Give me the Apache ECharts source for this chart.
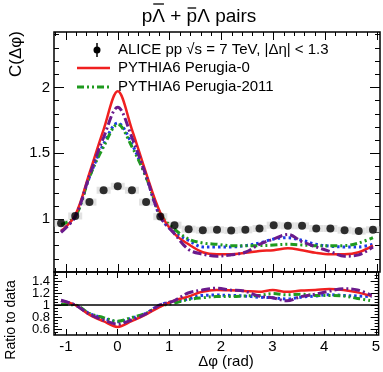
<!DOCTYPE html>
<html>
<head>
<meta charset="utf-8">
<script src="https://cdn.jsdelivr.net/npm/echarts@6/dist/echarts.min.js"></script>
<style>
  html, body { margin: 0; padding: 0; background: #fff; }
  #chart { width: 383px; height: 372px; }
</style>
</head>
<body>
<div id="chart"></div>
<script>
// bin centres (rad)
const BIN_X = [-1.093, -0.820, -0.546, -0.273, 0, 0.273, 0.546, 0.820, 1.093, 1.366, 1.639, 1.912,
               2.186, 2.459, 2.732, 3.005, 3.278, 3.552, 3.825, 4.098, 4.371, 4.644, 4.918];

// C(dphi) - data and models
const DATA_C    = [0.97, 1.025, 1.13, 1.22, 1.25, 1.22, 1.13, 1.02, 0.955, 0.925, 0.917, 0.92, 0.915, 0.92, 0.93, 0.955, 0.95, 0.95, 0.93, 0.93, 0.917, 0.91, 0.92];
const P0_C      = [0.91, 1.03, 1.35, 1.68, 1.97, 1.68, 1.35, 1.05, 0.89, 0.81, 0.75, 0.735, 0.735, 0.745, 0.76, 0.765, 0.78, 0.765, 0.745, 0.735, 0.735, 0.75, 0.80];
const P2011_C   = [0.96, 1.02, 1.32, 1.55, 1.72, 1.55, 1.32, 1.04, 0.925, 0.85, 0.82, 0.81, 0.80, 0.80, 0.80, 0.805, 0.81, 0.805, 0.80, 0.80, 0.80, 0.82, 0.86];
const BLUE_C    = [0.91, 1.02, 1.32, 1.57, 1.73, 1.57, 1.32, 1.02, 0.90, 0.84, 0.79, 0.79, 0.79, 0.80, 0.82, 0.85, 0.86, 0.84, 0.81, 0.795, 0.79, 0.79, 0.81];
const PURPLE_C  = [0.90, 1.02, 1.33, 1.62, 1.85, 1.62, 1.33, 1.02, 0.89, 0.77, 0.735, 0.72, 0.73, 0.75, 0.81, 0.85, 0.885, 0.83, 0.79, 0.755, 0.72, 0.73, 0.79];

// ratio to data
const P0_R      = [1.07, 1.0, 0.84, 0.73, 0.635, 0.73, 0.84, 0.97, 1.07, 1.14, 1.22, 1.25, 1.245, 1.235, 1.22, 1.25, 1.22, 1.24, 1.25, 1.265, 1.25, 1.21, 1.15];
const P2011_R   = [1.01, 1.0, 0.86, 0.79, 0.73, 0.79, 0.86, 0.98, 1.03, 1.09, 1.12, 1.14, 1.14, 1.15, 1.16, 1.19, 1.17, 1.18, 1.16, 1.16, 1.15, 1.11, 1.07];
const BLUE_R    = [1.07, 1.0, 0.86, 0.78, 0.72, 0.78, 0.86, 1.0, 1.06, 1.10, 1.16, 1.165, 1.16, 1.15, 1.13, 1.12, 1.10, 1.13, 1.15, 1.17, 1.16, 1.15, 1.14];
const PURPLE_R  = [1.08, 1.0, 0.85, 0.75, 0.68, 0.75, 0.85, 1.0, 1.07, 1.20, 1.25, 1.28, 1.25, 1.23, 1.15, 1.12, 1.07, 1.14, 1.18, 1.23, 1.27, 1.25, 1.16];

// ticks
const X_MAJOR  = [-1, 0, 1, 2, 3, 4, 5];
const X_MINOR  = [-1.2, -0.8, -0.6, -0.4, -0.2, 0.2, 0.4, 0.6, 0.8, 1.2, 1.4, 1.6, 1.8, 2.2, 2.4, 2.6, 2.8,
                  3.2, 3.4, 3.6, 3.8, 4.2, 4.4, 4.6, 4.8];
const YT_MAJOR = [1, 1.5, 2];
const YT_MINOR = [0.7, 0.8, 0.9, 1.1, 1.2, 1.3, 1.4, 1.6, 1.7, 1.8, 1.9, 2.1, 2.2, 2.3, 2.4];
const YB_MAJOR = [0.6, 0.8, 1, 1.2, 1.4];
const YB_LAB_A = [0.6, 1, 1.4];
const YB_LAB_B = [0.8, 1.2];
const YB_MINOR = [0.55, 0.65, 0.7, 0.75, 0.85, 0.9, 0.95, 1.05, 1.1, 1.15, 1.25, 1.3, 1.35, 1.45, 1.5];

const X_MIN = -1.229, X_MAX = 5.054;
const FONT = 'Liberation Sans, Arial, sans-serif';

const pairs = arr => BIN_X.map((x, i) => [x, arr[i]]);

// one axis carrying one family of inward ticks (and optionally labels)
function axis(grid, pos, min, max, vals, len, fs, labVals) {
    const a = {
        type: 'value', gridIndex: grid, position: pos, min: min, max: max,
        axisLine: { show: false, onZero: false }, splitLine: { show: false },
        axisTick: { show: len > 0, inside: true, length: len, customValues: vals,
                    lineStyle: { color: '#000', width: 1 } },
        axisLabel: { show: false }
    };
    if (fs) {
        a.axisLabel = { show: true, customValues: labVals || vals, color: '#000', fontFamily: FONT,
                        fontSize: fs, margin: 4, hideOverlap: false,
                        showMinLabel: true, showMaxLabel: true,
                        formatter: v => String(+v.toFixed(2)) };
    }
    return a;
}

const xAxes = [
    axis(0, 'bottom', X_MIN, X_MAX, X_MAJOR, 8),
    axis(0, 'bottom', X_MIN, X_MAX, X_MINOR, 4),
    axis(0, 'top', X_MIN, X_MAX, X_MAJOR, 8),
    axis(0, 'top', X_MIN, X_MAX, X_MINOR, 4),
    axis(1, 'bottom', X_MIN, X_MAX, X_MAJOR, 6, 15),
    axis(1, 'bottom', X_MIN, X_MAX, X_MINOR, 3),
    axis(1, 'top', X_MIN, X_MAX, X_MAJOR, 6),
    axis(1, 'top', X_MIN, X_MAX, X_MINOR, 3)
];
const yAxes = [
    axis(0, 'left', 0.6, 2.42, YT_MAJOR, 10, 15),
    axis(0, 'left', 0.6, 2.42, YT_MINOR, 5),
    axis(0, 'right', 0.6, 2.42, YT_MAJOR, 10),
    axis(0, 'right', 0.6, 2.42, YT_MINOR, 5),
    axis(1, 'left', 0.5, 1.55, YB_MAJOR, 8, 13, YB_LAB_A),
    axis(1, 'left', 0.5, 1.55, YB_MINOR, 4),
    axis(1, 'right', 0.5, 1.55, YB_MAJOR, 8),
    axis(1, 'right', 0.5, 1.55, YB_MINOR, 4),
    axis(1, 'left', 0.5, 1.55, YB_LAB_B, 0, 13, YB_LAB_B)
];

const STYLES = {
    red:    { color: '#f02020', width: 2.5, type: 'solid' },
    green:  { color: '#1f9a1f', width: 3, type: [7, 3, 2, 3, 2, 3] },
    blue:   { color: '#1c3ce6', width: 3, type: [2.5, 3] },
    purple: { color: '#6a1a8c', width: 3, type: [9, 3, 2, 3] }
};

function model(name, arr, st, xi, yi) {
    return {
        name: name, type: 'line', xAxisIndex: xi, yAxisIndex: yi, data: pairs(arr),
        smooth: 0.35, showSymbol: false, silent: true,
        lineStyle: { color: st.color, width: st.width, type: st.type }
    };
}

const series = [
    {   // systematic boxes
        name: 'sys', type: 'scatter', xAxisIndex: 0, yAxisIndex: 0, data: pairs(DATA_C),
        symbol: 'rect', symbolSize: [14, 7], silent: true,
        itemStyle: { color: 'rgba(190,190,190,0.55)' }
    },
    model('blue', BLUE_C, STYLES.blue, 0, 0),
    model('Perugia-2011', P2011_C, STYLES.green, 0, 0),
    model('Perugia-0', P0_C, STYLES.red, 0, 0),
    model('purple', PURPLE_C, STYLES.purple, 0, 0),
    {
        name: 'ALICE', type: 'scatter', xAxisIndex: 0, yAxisIndex: 0, data: pairs(DATA_C),
        symbol: 'circle', symbolSize: 8, silent: true, z: 5,
        itemStyle: { color: '#000' }
    },
    {
        name: 'unity', type: 'line', xAxisIndex: 4, yAxisIndex: 4, data: [],
        markLine: { silent: true, symbol: 'none', label: { show: false },
                    lineStyle: { color: '#000', width: 1.5, type: 'solid' },
                    data: [{ yAxis: 1 }] }
    },
    model('blue r', BLUE_R, STYLES.blue, 4, 4),
    model('green r', P2011_R, STYLES.green, 4, 4),
    model('red r', P0_R, STYLES.red, 4, 4),
    model('purple r', PURPLE_R, STYLES.purple, 4, 4)
];

// title with overlines drawn as short strokes
const TITLE_FS = 19, TITLE_CX = 199, TITLE_Y = 17;
const ctx = document.createElement('canvas').getContext('2d');
ctx.font = TITLE_FS + 'px ' + FONT;
const tw = s => ctx.measureText(s).width;
const titleStr = 'p\u039B + p\u039B pairs';
const tx0 = TITLE_CX - tw(titleStr) / 2;
const bar1 = [tx0 + tw('p'), tx0 + tw('p\u039B')];
const bar2 = [tx0 + tw('p\u039B + '), tx0 + tw('p\u039B + p')];

const legendText = { fontFamily: FONT, fontSize: 15, fill: '#000', textVerticalAlign: 'middle' };

const graphic = [
    { type: 'text', x: tx0, y: TITLE_Y,
      style: { text: titleStr, fontFamily: FONT, fontSize: TITLE_FS, fill: '#000', textVerticalAlign: 'middle' } },
    { type: 'line', shape: { x1: bar1[0] + 1, y1: 4, x2: bar1[1] - 1, y2: 4 }, style: { stroke: '#000', lineWidth: 1.3 } },
    { type: 'line', shape: { x1: bar2[0] + 1, y1: 8, x2: bar2[1] - 1, y2: 8 }, style: { stroke: '#000', lineWidth: 1.3 } },
    { type: 'text', x: 16, y: 31, rotation: Math.PI / 2,
      style: { text: 'C(\u0394\u03C6)', fontFamily: FONT, fontSize: 17, fill: '#000',
               textAlign: 'right', textVerticalAlign: 'middle' } },
    { type: 'text', x: 11, y: 320, rotation: Math.PI / 2,
      style: { text: 'Ratio to data', fontFamily: FONT, fontSize: 14, fill: '#000',
               textAlign: 'center', textVerticalAlign: 'middle' } },
    { type: 'text', x: 226, y: 362,
      style: { text: '\u0394\u03C6 (rad)', fontFamily: FONT, fontSize: 15, fill: '#000',
               textAlign: 'center', textVerticalAlign: 'middle' } },
    // legend
    { type: 'line', shape: { x1: 97, y1: 43, x2: 97, y2: 57 }, style: { stroke: '#000', lineWidth: 1.5 } },
    { type: 'circle', shape: { cx: 97, cy: 50, r: 3.5 }, style: { fill: '#000' } },
    { type: 'text', x: 118, y: 50, style: Object.assign({ text: 'ALICE pp \u221As = 7 TeV, |\u0394\u03B7| < 1.3' }, legendText) },
    { type: 'line', shape: { x1: 77, y1: 68, x2: 110, y2: 68 },
      style: { stroke: STYLES.red.color, lineWidth: STYLES.red.width } },
    { type: 'text', x: 118, y: 68, style: Object.assign({ text: 'PYTHIA6 Perugia-0' }, legendText) },
    { type: 'line', shape: { x1: 77, y1: 87, x2: 110, y2: 87 },
      style: { stroke: STYLES.green.color, lineWidth: STYLES.green.width, lineDash: STYLES.green.type } },
    { type: 'text', x: 118, y: 87, style: Object.assign({ text: 'PYTHIA6 Perugia-2011' }, legendText) }
];

const chart = echarts.init(document.getElementById('chart'), null, { renderer: 'canvas' });
chart.setOption({
    animation: false,
    backgroundColor: '#fff',
    grid: [
        { left: 54, top: 32, width: 326, height: 240, show: true, borderColor: '#000', borderWidth: 1.5, backgroundColor: 'transparent' },
        { left: 54, top: 272, width: 326, height: 63, show: true, borderColor: '#000', borderWidth: 1.5, backgroundColor: 'transparent' }
    ],
    xAxis: xAxes,
    yAxis: yAxes,
    series: series,
    graphic: graphic
});
</script>
</body>
</html>
